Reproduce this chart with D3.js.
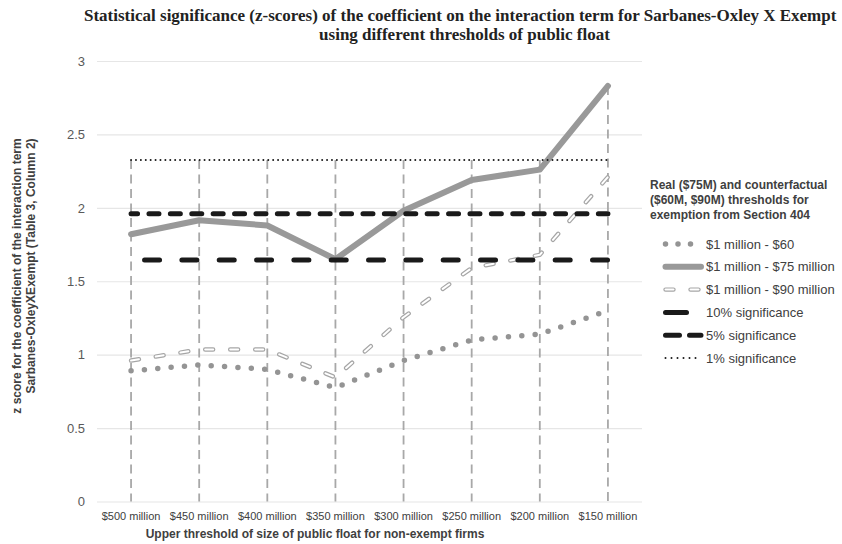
<!DOCTYPE html>
<html>
<head>
<meta charset="utf-8">
<script src="https://cdn.jsdelivr.net/npm/d3@7"></script>
<style>
  body { margin: 0; background: #fff; }
  text { font-family: "Liberation Sans", Arial, sans-serif; }
</style>
</head>
<body>
<svg id="chart" width="842" height="544"></svg>
<script>
// Upper threshold of public float (categories along the x axis)
const categories = ["$500 million", "$450 million", "$400 million", "$350 million",
                    "$300 million", "$250 million", "$200 million", "$150 million"];

// z-scores for each exemption threshold
const z60 = [0.89, 0.93, 0.90, 0.775, 0.96, 1.10, 1.14, 1.30];
const z75 = [1.82, 1.915, 1.88, 1.65, 1.98, 2.19, 2.26, 2.83];
const z90 = [0.96, 1.035, 1.035, 0.845, 1.255, 1.59, 1.68, 2.21];

// Critical values for significance levels
const sig10 = [1.645, 1.645, 1.645, 1.645, 1.645, 1.645, 1.645, 1.645];
const sig5  = [1.96, 1.96, 1.96, 1.96, 1.96, 1.96, 1.96, 1.96];
const sig1  = [2.326, 2.326, 2.326, 2.326, 2.326, 2.326, 2.326, 2.326];

const yTicks = [0, 0.5, 1, 1.5, 2, 2.5, 3];

const seriesNames = ["$1 million - $60", "$1 million - $75 million", "$1 million - $90 million",
                     "10% significance", "5% significance", "1% significance"];

const svg = d3.select("#chart");

const x = d3.scaleBand().domain(categories).range([97, 642]);
const y = d3.scaleLinear().domain([0, 3]).range([501.5, 61]);
const cx = c => x(c) + x.bandwidth() / 2;

// Horizontal gridlines and y tick labels
const yAxis = svg.append("g")
  .attr("transform", "translate(97,0)")
  .call(d3.axisLeft(y).tickValues(yTicks).tickFormat(d3.format("")).tickSize(-545).tickPadding(12));
yAxis.select(".domain").remove();
yAxis.selectAll("line").attr("stroke", "#e6e6e6").attr("stroke-width", 1.2);
yAxis.selectAll("text").attr("fill", "#595959").style("font-size", "13px");

// x tick labels
const xAxis = svg.append("g")
  .attr("transform", "translate(0,501.5)")
  .call(d3.axisBottom(x).tickSize(0).tickPadding(11));
xAxis.select(".domain").remove();
xAxis.selectAll("text").attr("fill", "#404040").style("font-size", "11px");

// Drop lines from the highest value at each category down to zero
const allSeries = [z60, z75, z90, sig10, sig5, sig1];
svg.append("g").selectAll("line")
  .data(categories)
  .join("line")
  .attr("x1", d => cx(d)).attr("x2", d => cx(d))
  .attr("y1", (d, i) => y(d3.max(allSeries, s => s[i])))
  .attr("y2", y(0))
  .attr("stroke", "#a8a8a8")
  .attr("stroke-width", 1.8)
  .attr("stroke-dasharray", "9 5.5");

const line = d3.line().x((d, i) => cx(categories[i])).y(d => y(d));

// Line styles for each series (legend samples use their own dash rhythm)
const styles = [
  [{ stroke: "#949494", width: 5.5, dash: "0 13.4", offset: 0, legDash: "0 12.5" }],
  [{ stroke: "#999999", width: 6, dash: null, offset: 0, legDash: null }],
  [{ stroke: "#a6a6a6", width: 4.4, dash: "8 17", offset: 0, legDash: "8 17" },
   { stroke: "#ffffff", width: 2, dash: "8 17", offset: 0, legDash: "8 17" }],
  [{ stroke: "#1a1a1a", width: 5, dash: "15 22.33", offset: 23.83, legDash: "21 100" }],
  [{ stroke: "#1a1a1a", width: 5, dash: "10 11.4", offset: 3.5, legDash: "14 10" }],
  [{ stroke: "#1a1a1a", width: 2, dash: "0 4.9", offset: 0, legDash: "0 6" }]
];

const plot = svg.append("g");
allSeries.forEach((s, k) => {
  styles[k].forEach(st => {
    plot.append("path")
      .attr("d", line(s))
      .attr("fill", "none")
      .attr("stroke", st.stroke)
      .attr("stroke-width", st.width)
      .attr("stroke-linecap", "round")
      .attr("stroke-linejoin", "round")
      .attr("stroke-dasharray", st.dash)
      .attr("stroke-dashoffset", st.offset);
  });
});

// Title
const title = svg.append("g")
  .style("font-weight", "bold").style("font-size", "17px").attr("fill", "#222");
title.append("text").attr("x", 84).attr("y", 21)
  .style("font-family", "'Liberation Serif', 'Times New Roman', serif")
  .text("Statistical significance (z-scores) of the coefficient on the interaction term for Sarbanes-Oxley X Exempt");
title.append("text").attr("x", 464.5).attr("y", 40).attr("text-anchor", "middle")
  .style("font-family", "'Liberation Serif', 'Times New Roman', serif")
  .text("using different thresholds of public float");

// Axis titles
svg.append("text").attr("x", 315).attr("y", 538).attr("text-anchor", "middle")
  .attr("fill", "#404040").style("font-size", "12px").style("font-weight", "bold")
  .text("Upper threshold of size of public float for non-exempt firms");

svg.append("text").attr("transform", "translate(21,276) rotate(-90)").attr("text-anchor", "middle")
  .attr("fill", "#404040").style("font-size", "12px").style("font-weight", "bold")
  .text("z score for the coefficient of the interaction term");
svg.append("text").attr("transform", "translate(35,266) rotate(-90)").attr("text-anchor", "middle")
  .attr("fill", "#404040").style("font-size", "12px").style("font-weight", "bold")
  .text("Sarbanes-OxleyXExempt (Table 3, Column 2)");

// Legend
const legend = svg.append("g");
const legendTitle = ["Real ($75M) and counterfactual", "($60M, $90M) thresholds for", "exemption from Section 404"];
legend.selectAll("text.lt").data(legendTitle).join("text")
  .attr("class", "lt")
  .attr("x", 650).attr("y", (d, i) => 189 + i * 15)
  .attr("fill", "#404040").style("font-size", "12px").style("font-weight", "bold")
  .text(d => d);

const rowY = i => 244 + i * 22.8;
seriesNames.forEach((name, k) => {
  const yy = rowY(k);
  styles[k].forEach(st => {
    legend.append("line")
      .attr("x1", 665.5).attr("x2", 701).attr("y1", yy).attr("y2", yy)
      .attr("stroke", st.stroke)
      .attr("stroke-width", st.width)
      .attr("stroke-linecap", "round")
      .attr("stroke-dasharray", st.legDash);
  });
  legend.append("text").attr("x", 706).attr("y", yy + 4.6)
    .attr("fill", "#404040").style("font-size", "13px")
    .text(name);
});
</script>
</body>
</html>
